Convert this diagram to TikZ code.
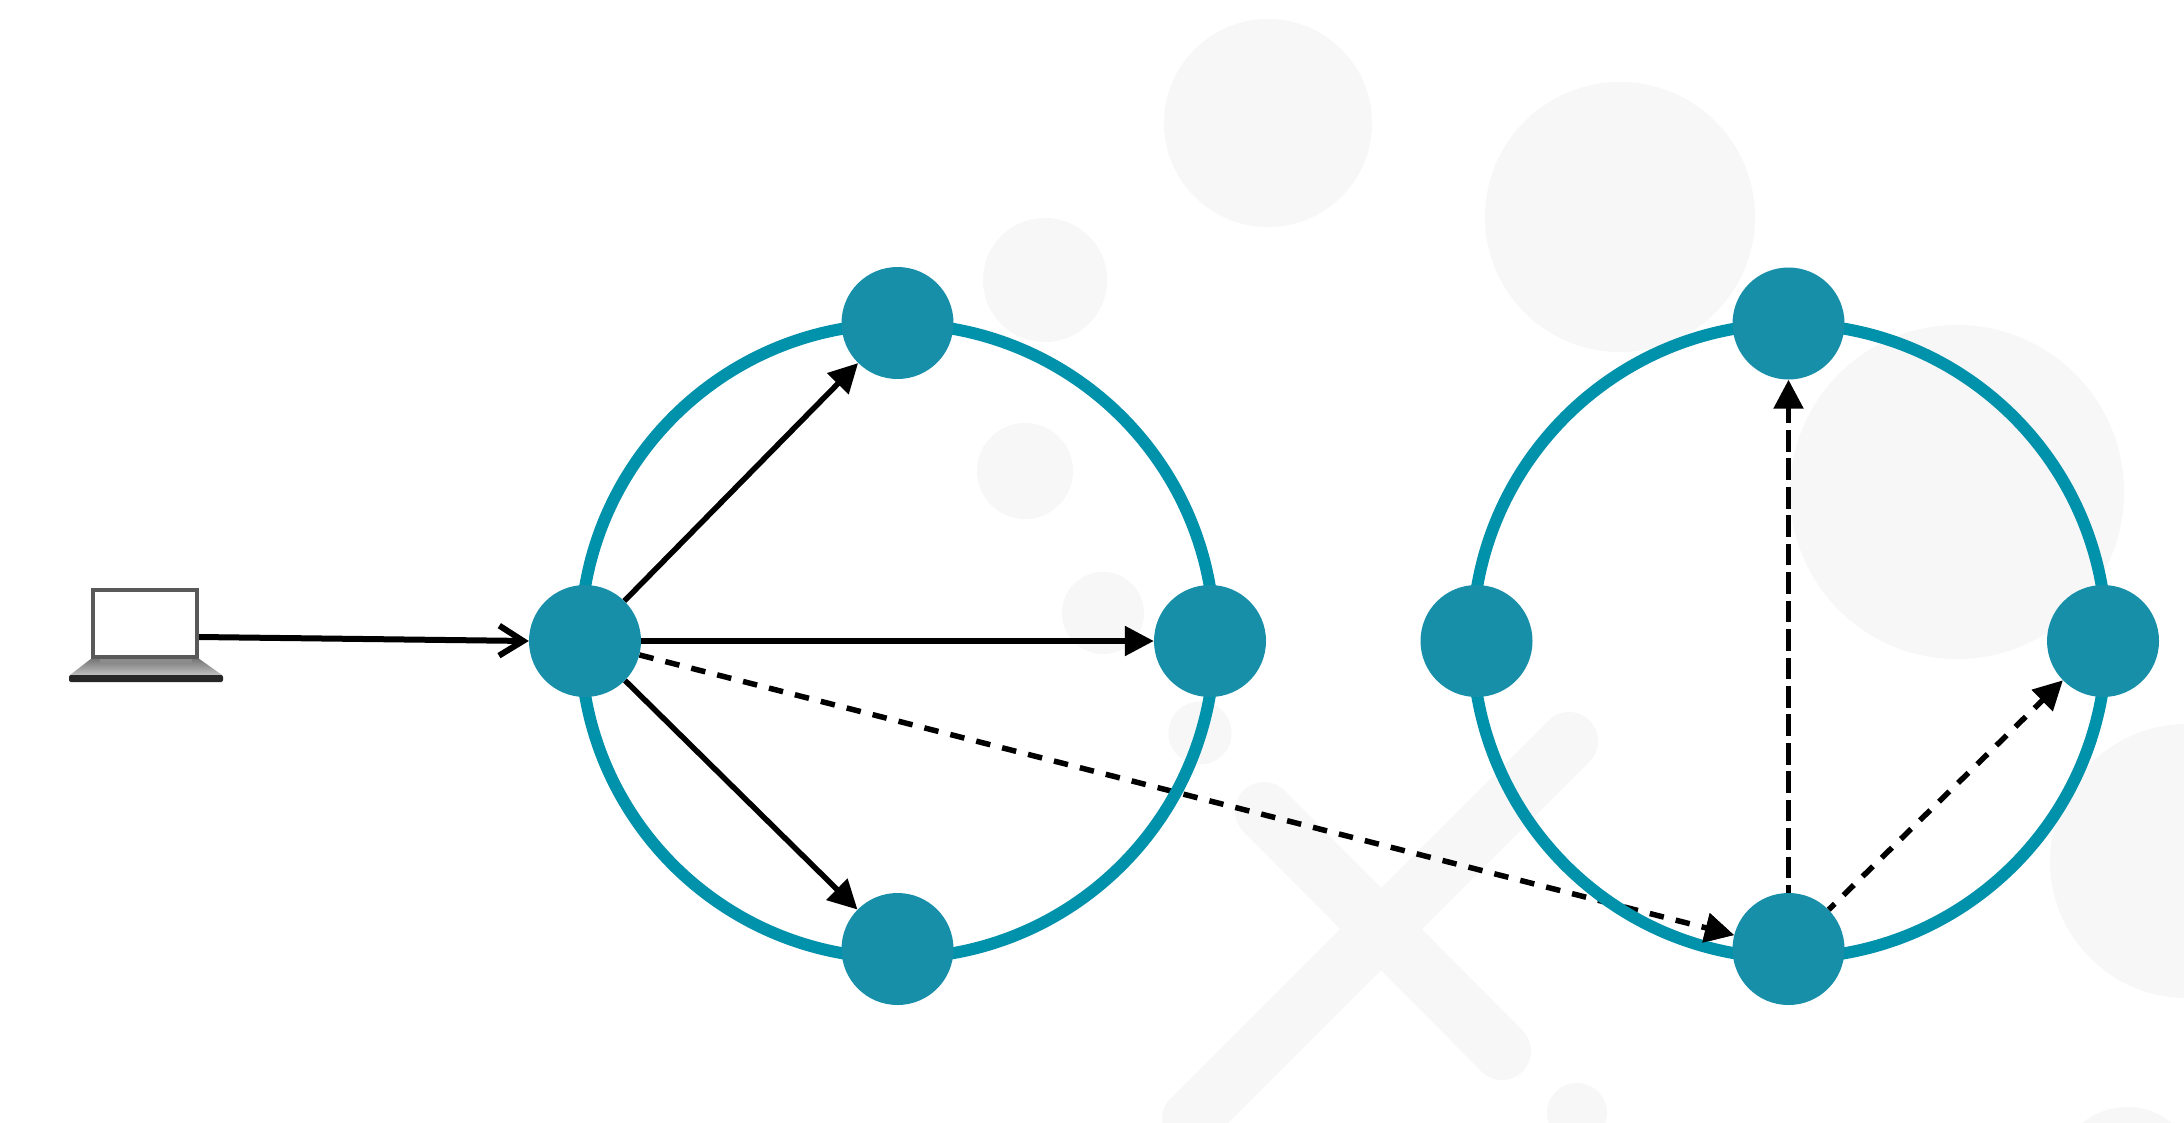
\documentclass[tikz,border=0pt]{standalone}
\usetikzlibrary{arrows.meta,calc}
\definecolor{ringc}{HTML}{0091AB}
\definecolor{nodec}{HTML}{178FA9}
\definecolor{bgc}{HTML}{F7F7F7}
\pgfdeclarelayer{backdrop}
\pgfdeclarelayer{links}
\pgfdeclarelayer{rings}
\pgfsetlayers{backdrop,links,rings,main}
\tikzset{
  peer/.style={circle,fill=nodec,inner sep=0pt,minimum size=112pt},
  ring/.style={draw=ringc,line width=12pt},
  blob/.style={fill=bgc},
  bar/.style={draw=bgc,line width=58pt,line cap=round},
  link/.style={line width=5.5pt,draw=black,-{Triangle[length=29pt,width=29pt]}},
  inlink/.style={line width=6pt,draw=black,-{Straight Barb[length=24pt,width=30pt,line width=6pt]}},
  dotlink/.style={link,dash pattern=on 14.5pt off 12.24pt},
  dashlink/.style={link,dash pattern=on 21.7pt off 6.75pt},
}
\begin{document}
\begin{tikzpicture}[x=1pt,y=-1pt]
\useasboundingbox (0,0) rectangle (2184,1122);
% nodes
\node[peer] (a) at (585,641) {};
\node[peer] (b) at (897.5,323) {};
\node[peer] (c) at (1210,641) {};
\node[peer] (d) at (897.5,949) {};
\node[peer] (e) at (1476.5,641) {};
\node[peer] (f) at (1788.5,323.5) {};
\node[peer] (g) at (2103,641) {};
\node[peer] (h) at (1788.5,949) {};
% laptop
\shade[top color=black!55,bottom color=black!25] (92,658) -- (198,658) -- (222,675) -- (70,675) -- cycle;
\fill[black!45] (100,659) rectangle (192,663);
\fill[black!85,rounded corners=2pt] (69,675) rectangle (223,682);
\node[draw=black!65,line width=3.5pt,fill=white,inner sep=0pt,minimum width=104pt,minimum height=67pt] (laptop) at (145,623.5) {};
\coordinate (laptopout) at (laptop.east|-0,637);
\begin{pgfonlayer}{backdrop}
\fill[white] (0,0) rectangle (2184,1122);
\begin{scope}
\clip (0,0) rectangle (2184,1122);
\fill[blob] (1268,123) circle (104);
\fill[blob] (1620,217) circle (135);
\fill[blob] (1045,280) circle (62);
\fill[blob] (1025,471) circle (48);
\fill[blob] (1103,613) circle (41);
\fill[blob] (1200,733) circle (31.5);
\fill[blob] (1957,492) circle (167);
\fill[blob] (2187,861) circle (137);
\fill[blob] (1577,1113) circle (30);
\fill[blob] (2127,1177) circle (70);
\draw[bar] (1569,741) -- (1191,1119);
\draw[bar] (1264,811) -- (1502,1051);
\end{scope}
\end{pgfonlayer}
% links
\begin{pgfonlayer}{links}
\draw[inlink] (laptopout) -- (a.west);
\draw[link] (a) -- (b);
\draw[link] (a) -- (c);
\draw[link] (a) -- (d);
\draw[dotlink] (a) -- (h);
\draw[dashlink,dash phase=14pt] (h) -- (f);
\draw[dotlink,dash phase=6pt] (h) -- (g);
\end{pgfonlayer}
% rings
\begin{pgfonlayer}{rings}
\draw[ring] (897.5,641) circle (317);
\draw[ring] (1789.5,641) circle (317);
\end{pgfonlayer}
% arrow head of the long link lies over the ring
\draw[link,dash pattern=on 0pt off 100pt] ($(h)!90pt!(a)$) -- (h);
\end{tikzpicture}
\end{document}
